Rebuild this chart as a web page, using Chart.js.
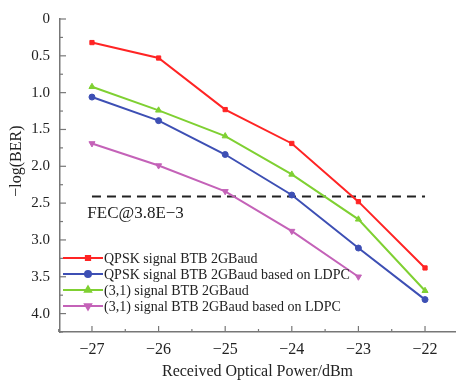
<!DOCTYPE html>
<html>
<head>
<meta charset="utf-8">
<script src="https://cdn.jsdelivr.net/npm/chart.js@4/dist/chart.umd.min.js"></script>
<style>
html,body{margin:0;padding:0;background:#fff;}
#wrap{width:461px;height:387px;}
</style>
</head>
<body>
<div id="wrap"><canvas id="c" width="461" height="387"></canvas></div>
<script>
const powers = [-27, -26, -25, -24, -23, -22];
const qpsk = [0.32, 0.53, 1.23, 1.69, 2.48, 3.38];
const qpskLdpc = [1.06, 1.38, 1.84, 2.39, 3.11, 3.81];
const sig31 = [0.92, 1.24, 1.59, 2.11, 2.72, 3.69];
const sig31Ldpc = [1.69, 1.99, 2.34, 2.88, 3.50, null];
const fecX = [-27, -22];
const fecY = [2.41, 2.41];
const xTicks = [-27, -26, -25, -24, -23, -22];
const yTicks = [0, 0.5, 1.0, 1.5, 2.0, 2.5, 3.0, 3.5, 4.0];
const seriesNames = ['QPSK signal BTB 2GBaud', 'QPSK signal BTB 2GBaud based on LDPC', '(3,1) signal BTB 2GBaud', '(3,1) signal BTB 2GBaud based on LDPC'];
const fecLabel = 'FEC@3.8E\u22123';
const yTitle = '\u2212log(BER)';
const xTitle = 'Received Optical Power/dBm';

const SERIF = '"Liberation Serif", "DejaVu Serif", serif';
const colors = ['#ff2424', '#3d4fb4', '#7fd032', '#c462b8'];
const styles = [{s:'rect', r:3, rot:0}, {s:'circle', r:3, rot:0}, {s:'triangle', r:3.5, rot:0}, {s:'triangle', r:3.5, rot:180}];
const seriesData = [qpsk, qpskLdpc, sig31, sig31Ldpc];

const datasets = seriesData.map((arr, i) => ({
  label: seriesNames[i],
  data: powers.map((x, j) => arr[j] == null ? null : ({x: x, y: arr[j]})).filter(p => p),
  borderColor: colors[i],
  backgroundColor: colors[i],
  borderWidth: 2,
  pointStyle: styles[i].s,
  pointRadius: styles[i].r,
  pointRotation: styles[i].rot,
  pointBorderWidth: 1,
  tension: 0
}));
datasets.push({
  label: 'FEC',
  data: fecX.map((x, j) => ({x: x, y: fecY[j]})),
  borderColor: '#222',
  borderWidth: 1.8,
  borderDash: [9, 6],
  pointRadius: 0,
  tension: 0
});

const decor = {
  id: 'decor',
  afterDraw(chart) {
    const ctx = chart.ctx;
    const xs = chart.scales.x, ys = chart.scales.y;
    const ca = chart.chartArea;
    ctx.save();
    ctx.strokeStyle = '#777';
    ctx.lineWidth = 1.2;
    for (let v = -27.5; v <= -21.5 + 1e-9; v += 0.5) {
      const px = xs.getPixelForValue(v);
      if (px > ca.right + 0.5) continue;
      const len = Math.abs(v - Math.round(v)) < 1e-9 ? 6 : 3;
      ctx.beginPath(); ctx.moveTo(px, ca.bottom); ctx.lineTo(px, ca.bottom - len); ctx.stroke();
    }
    for (let v = 0; v <= 4.25 + 1e-9; v += 0.25) {
      const py = ys.getPixelForValue(v);
      const len = Math.abs(v * 2 - Math.round(v * 2)) < 1e-9 ? 6 : 3;
      ctx.beginPath(); ctx.moveTo(ca.left, py); ctx.lineTo(ca.left + len, py); ctx.stroke();
    }
    ctx.fillStyle = '#222';
    ctx.font = '17px ' + SERIF;
    ctx.textBaseline = 'middle';
    ctx.textAlign = 'left';
    ctx.fillText(fecLabel, xs.getPixelForValue(-27.07), ys.getPixelForValue(2.64));
    ctx.save();
    ctx.translate(17, ys.getPixelForValue(1.93));
    ctx.rotate(-Math.PI / 2);
    ctx.textAlign = 'center';
    ctx.font = '16px ' + SERIF;
    ctx.fillText(yTitle, 0, 0);
    ctx.restore();
    ctx.font = '14px ' + SERIF;
    ctx.textAlign = 'left';
    const x0 = ca.left + 3, x1 = ca.left + 43, mx = ca.left + 28;
    const ly0 = 258, dy = 16;
    chart.data.datasets.slice(0, 4).forEach((ds, i) => {
      const y = ly0 + i * dy;
      ctx.strokeStyle = ds.borderColor;
      ctx.lineWidth = 2;
      ctx.setLineDash([]);
      ctx.beginPath(); ctx.moveTo(x0, y); ctx.lineTo(x1, y); ctx.stroke();
      ctx.fillStyle = ds.backgroundColor;
      Chart.helpers.drawPoint(ctx, {pointStyle: ds.pointStyle, radius: ds.pointRadius, rotation: ds.pointRotation, borderWidth: 1}, mx, y);
      ctx.fillStyle = '#222';
      ctx.fillText(ds.label, x1 + 1, y + 1);
    });
    ctx.restore();
  }
};

new Chart(document.getElementById('c'), {
  type: 'line',
  data: {datasets: datasets},
  options: {
    responsive: false,
    animation: false,
    layout: {padding: {top: 13, right: 6, left: 0, bottom: 0}},
    plugins: {legend: {display: false}, tooltip: {enabled: false}},
    scales: {
      x: {
        type: 'linear',
        min: -27.48,
        max: -21.55,
        afterBuildTicks: s => { s.ticks = xTicks.map(v => ({value: v})); },
        afterFit: s => { s.height = 55; },
        grid: {display: false, drawTicks: false},
        border: {display: true, color: '#777', width: 1.5},
        ticks: {
          padding: 8,
          color: '#222',
          font: {family: SERIF, size: 16},
          callback: v => String(v).replace('-', '\u2212')
        },
        title: {display: true, text: xTitle, color: '#222', font: {family: SERIF, size: 16}, padding: {top: 0, bottom: 6}}
      },
      y: {
        type: 'linear',
        reverse: true,
        min: 0,
        max: 4.25,
        afterBuildTicks: s => { s.ticks = yTicks.map(v => ({value: v})); },
        afterFit: s => { s.width = 60; },
        grid: {display: false, drawTicks: false},
        border: {display: true, color: '#777', width: 1.5},
        ticks: {
          padding: 10,
          color: '#222',
          font: {family: SERIF, size: 15},
          callback: v => v === 0 ? '0' : v.toFixed(1)
        }
      }
    }
  },
  plugins: [decor]
});
</script>
</body>
</html>
